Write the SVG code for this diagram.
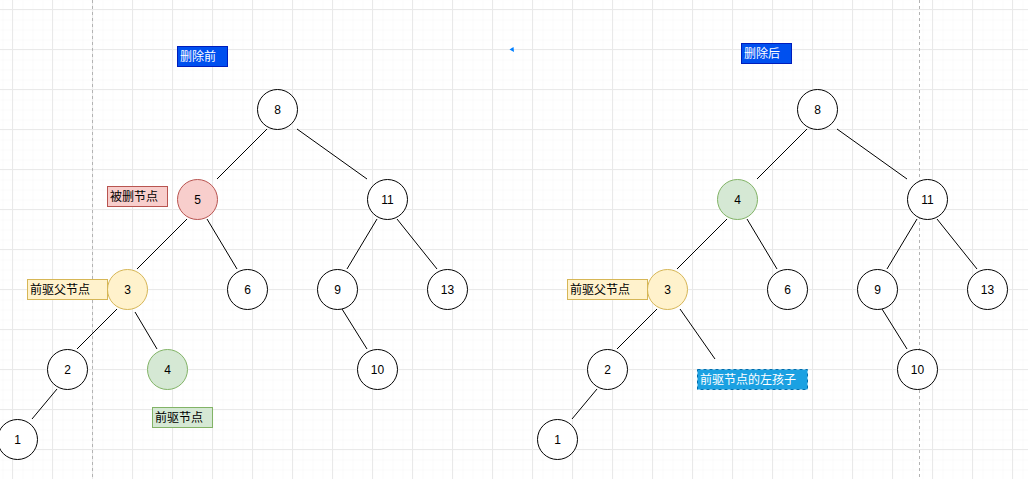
<svg xmlns="http://www.w3.org/2000/svg" width="1028" height="479" viewBox="0 0 1028 479">
<defs>
<pattern id="minor" x="2" y="-1" width="10" height="10" patternUnits="userSpaceOnUse">
<path d="M0 0H10M0 0V10" fill="none" stroke="#f5f5f5" stroke-width="1"/>
</pattern>
<pattern id="major" x="12" y="9" width="40" height="40" patternUnits="userSpaceOnUse">
<path d="M0 0.5H40M0.5 0V40" fill="none" stroke="#e9e9e9" stroke-width="1"/>
</pattern>
<style>
.n circle{fill:#fff;stroke:#000;stroke-width:1}
.t{font-family:"Liberation Sans","Noto Sans CJK SC",sans-serif;font-size:12px;fill:#000}
.c{text-anchor:middle;dominant-baseline:central}
.e line{stroke:#000;stroke-width:1}
.red circle{fill:#f8cecc;stroke:#b85450}
.yel circle{fill:#fff2cc;stroke:#d6b656}
.grn circle{fill:#d5e8d4;stroke:#82b366}
</style>
</defs>
<rect width="1028" height="479" fill="#fff"/>
<rect width="1028" height="479" fill="url(#minor)" transform="translate(0.5,0.5)"/>
<rect width="1028" height="479" fill="url(#major)"/>
<line x1="92.5" y1="0" x2="92.5" y2="479" stroke="#b3b3b3" stroke-dasharray="3 3"/>
<line x1="919.5" y1="0" x2="919.5" y2="479" stroke="#b3b3b3" stroke-dasharray="3 3"/>
<path d="M509.5 49.5L513.5 47L514 52Z" fill="#007fff"/>

<g class="e" id="connectors">
<line x1="267" y1="129" x2="217" y2="179"/>
<line x1="297" y1="129" x2="367" y2="179"/>
<line x1="187" y1="219" x2="137" y2="269"/>
<line x1="207" y1="219" x2="237" y2="269"/>
<line x1="377" y1="219" x2="347" y2="269"/>
<line x1="397" y1="219" x2="437" y2="269"/>
<line x1="117" y1="309" x2="77" y2="349"/>
<line x1="135" y1="312" x2="157" y2="349"/>
<line x1="342" y1="309" x2="367" y2="349"/>
<line x1="57" y1="389" x2="32" y2="419"/>
<line x1="807" y1="129" x2="757" y2="179"/>
<line x1="837" y1="129" x2="907" y2="179"/>
<line x1="727" y1="219" x2="677" y2="269"/>
<line x1="747" y1="219" x2="777" y2="269"/>
<line x1="917" y1="219" x2="887" y2="269"/>
<line x1="937" y1="219" x2="977" y2="269"/>
<line x1="657" y1="309" x2="617" y2="349"/>
<line x1="680" y1="309" x2="715" y2="359"/>
<line x1="882" y1="309" x2="907" y2="349"/>
<line x1="597" y1="389" x2="572" y2="419"/>
</g>

<g id="L8" class="n"><circle cx="277.5" cy="109.5" r="20"/><text class="t c" x="277.5" y="109.5">8</text></g>
<g id="L5" class="n red"><circle cx="197.5" cy="199.5" r="20"/><text class="t c" x="197.5" y="199.5">5</text></g>
<g id="L11" class="n"><circle cx="387.5" cy="199.5" r="20"/><text class="t c" x="387.5" y="199.5">11</text></g>
<g id="L3" class="n yel"><circle cx="127.5" cy="289.5" r="20"/><text class="t c" x="127.5" y="289.5">3</text></g>
<g id="L6" class="n"><circle cx="247.5" cy="289.5" r="20"/><text class="t c" x="247.5" y="289.5">6</text></g>
<g id="L9" class="n"><circle cx="337.5" cy="289.5" r="20"/><text class="t c" x="337.5" y="289.5">9</text></g>
<g id="L13" class="n"><circle cx="447.5" cy="289.5" r="20"/><text class="t c" x="447.5" y="289.5">13</text></g>
<g id="L2" class="n"><circle cx="67.5" cy="369.5" r="20"/><text class="t c" x="67.5" y="369.5">2</text></g>
<g id="L4" class="n grn"><circle cx="167.5" cy="369.5" r="20"/><text class="t c" x="167.5" y="369.5">4</text></g>
<g id="L10" class="n"><circle cx="377.5" cy="369.5" r="20"/><text class="t c" x="377.5" y="369.5">10</text></g>
<g id="L1" class="n"><circle cx="17.5" cy="439.5" r="20"/><text class="t c" x="17.5" y="439.5">1</text></g>

<g id="R8" class="n"><circle cx="817.5" cy="109.5" r="20"/><text class="t c" x="817.5" y="109.5">8</text></g>
<g id="R4" class="n grn"><circle cx="737.5" cy="199.5" r="20"/><text class="t c" x="737.5" y="199.5">4</text></g>
<g id="R11" class="n"><circle cx="927.5" cy="199.5" r="20"/><text class="t c" x="927.5" y="199.5">11</text></g>
<g id="R3" class="n yel"><circle cx="667.5" cy="289.5" r="20"/><text class="t c" x="667.5" y="289.5">3</text></g>
<g id="R6" class="n"><circle cx="787.5" cy="289.5" r="20"/><text class="t c" x="787.5" y="289.5">6</text></g>
<g id="R9" class="n"><circle cx="877.5" cy="289.5" r="20"/><text class="t c" x="877.5" y="289.5">9</text></g>
<g id="R13" class="n"><circle cx="987.5" cy="289.5" r="20"/><text class="t c" x="987.5" y="289.5">13</text></g>
<g id="R2" class="n"><circle cx="607.5" cy="369.5" r="20"/><text class="t c" x="607.5" y="369.5">2</text></g>
<g id="R10" class="n"><circle cx="917.5" cy="369.5" r="20"/><text class="t c" x="917.5" y="369.5">10</text></g>
<g id="R1" class="n"><circle cx="557.5" cy="439.5" r="20"/><text class="t c" x="557.5" y="439.5">1</text></g>

<g id="lbl-before"><rect x="177.5" y="46.5" width="50" height="20" fill="#0050ef" stroke="#001dbc"/><text class="t" x="180" y="61" style="fill:#fff">删除前</text></g>
<g id="lbl-after"><rect x="741.5" y="43.5" width="50" height="20" fill="#0050ef" stroke="#001dbc"/><text class="t" x="744" y="58" style="fill:#fff">删除后</text></g>
<g id="lbl-deleted"><rect x="107.5" y="186.5" width="60" height="20" fill="#f8cecc" stroke="#b85450"/><text class="t" x="110" y="201">被删节点</text></g>
<g id="lbl-pparent-l"><rect x="27.5" y="279.5" width="80" height="20" fill="#fff2cc" stroke="#d6b656"/><text class="t" x="30" y="294">前驱父节点</text></g>
<g id="lbl-pred"><rect x="152.5" y="407.5" width="60" height="20" fill="#d5e8d4" stroke="#82b366"/><text class="t" x="155" y="422">前驱节点</text></g>
<g id="lbl-pparent-r"><rect x="567.5" y="279.5" width="80" height="20" fill="#fff2cc" stroke="#d6b656"/><text class="t" x="570" y="294">前驱父节点</text></g>
<g id="lbl-leftchild"><rect x="697.5" y="369.5" width="110" height="20" fill="#1ba1e2" stroke="#006eaf" stroke-dasharray="3 3"/><text class="t" x="700" y="384" style="fill:#fff">前驱节点的左孩子</text></g>
</svg>
